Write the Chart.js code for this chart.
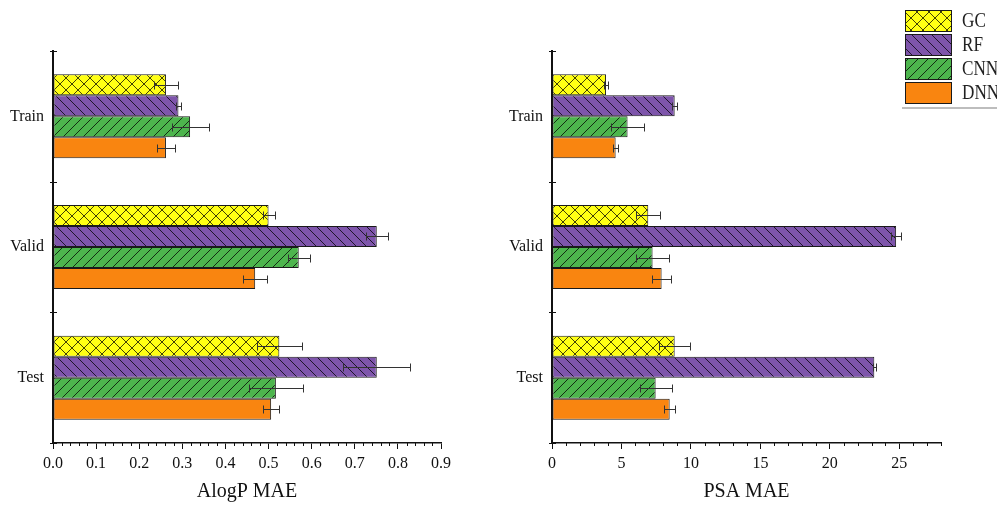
<!DOCTYPE html>
<html>
<head>
<meta charset="utf-8">
<script src="https://cdn.jsdelivr.net/npm/chart.js@4.4.0/dist/chart.umd.min.js"></script>
<style>
  html, body { margin: 0; padding: 0; background: #fff; }
  #wrap { position: relative; width: 997px; height: 505px; overflow: hidden; background: #fff; }
  #c1 { position: absolute; left: 0; top: 0; }
  #c2 { position: absolute; left: 497px; top: 0; }
</style>
</head>
<body>
<div id="wrap">
  <canvas id="c1" width="497" height="505"></canvas>
  <canvas id="c2" width="500" height="505"></canvas>
</div>
<script>
// Data splits and models
const splits = ['Train', 'Valid', 'Test'];
const models = ['GC', 'RF', 'CNN', 'DNN'];

// AlogP mean absolute error per split
const alogpGC  = [0.262, 0.500, 0.525];
const alogpRF  = [0.291, 0.751, 0.751];
const alogpCNN = [0.318, 0.570, 0.517];
const alogpDNN = [0.262, 0.469, 0.506];
// AlogP error bars (±)
const alogpErrGC  = [0.028, 0.014, 0.052];
const alogpErrRF  = [0.005, 0.026, 0.078];
const alogpErrCNN = [0.043, 0.025, 0.062];
const alogpErrDNN = [0.020, 0.028, 0.019];

// PSA mean absolute error per split
const psaGC  = [3.89, 6.93, 8.83];
const psaRF  = [8.83, 24.77, 23.2];
const psaCNN = [5.44, 7.24, 7.46];
const psaDNN = [4.58, 7.89, 8.47];
// PSA error bars (±)
const psaErrGC  = [0.15, 0.85, 1.12];
const psaErrRF  = [0.20, 0.38, 0.12];
const psaErrCNN = [1.17, 1.17, 1.15];
const psaErrDNN = [0.17, 0.70, 0.38];

// Axis tick settings
const alogpTicks = { max: 0.9, step: 0.1, minor: 0.02 };
const psaTicks   = { max: 28,  step: 5,   minor: 1 };

const SERIF = '"Liberation Serif", "Times New Roman", serif';
const INK = '#111';

// Hatched fills
function makePattern(kind, color) {
  const s = kind === 'cross' ? 12 : 10;
  const c = document.createElement('canvas');
  c.width = s; c.height = s;
  const g = c.getContext('2d');
  g.fillStyle = color;
  g.fillRect(0, 0, s, s);
  if (kind === 'plain') return g.createPattern(c, 'repeat');
  g.strokeStyle = 'rgba(0,0,0,0.75)';
  g.lineWidth = 1;
  const fwd = () => { // "/"
    g.beginPath();
    g.moveTo(-1, s + 1); g.lineTo(s + 1, -1);
    g.moveTo(-1, 1); g.lineTo(1, -1);
    g.moveTo(s - 1, s + 1); g.lineTo(s + 1, s - 1);
    g.stroke();
  };
  const back = () => { // "\"
    g.beginPath();
    g.moveTo(-1, -1); g.lineTo(s + 1, s + 1);
    g.moveTo(s - 1, -1); g.lineTo(s + 1, 1);
    g.moveTo(-1, s - 1); g.lineTo(1, s + 1);
    g.stroke();
  };
  if (kind === 'fwd') fwd();
  if (kind === 'back') back();
  if (kind === 'cross') { fwd(); back(); }
  return g.createPattern(c, 'repeat');
}

const fills = [
  makePattern('cross', '#ffff14'),
  makePattern('back', '#7e55ab'),
  makePattern('fwd', '#4db54d'),
  makePattern('plain', '#f98510')
];

function buildDatasets(values, errors) {
  return models.map((m, i) => ({
    label: m,
    data: values[i],
    errors: errors[i],
    backgroundColor: fills[i],
    borderColor: '#1a1a1a',
    borderWidth: 1,
    borderSkipped: false
  }));
}

// Error bars, minor ticks and category boundary ticks
const decorations = {
  id: 'decorations',
  afterDatasetsDraw(chart) {
    const ctx = chart.ctx;
    const xs = chart.scales.x;
    ctx.save();
    ctx.strokeStyle = '#333';
    ctx.lineWidth = 1;
    chart.data.datasets.forEach((ds, di) => {
      const meta = chart.getDatasetMeta(di);
      meta.data.forEach((bar, j) => {
        const v = ds.data[j], e = ds.errors[j];
        const x1 = Math.round(xs.getPixelForValue(v - e)) + 0.5;
        const x2 = Math.round(xs.getPixelForValue(v + e)) + 0.5;
        const y = Math.round(bar.y) + 0.5;
        ctx.beginPath();
        ctx.moveTo(x1, y); ctx.lineTo(x2, y);
        ctx.moveTo(x1, y - 4); ctx.lineTo(x1, y + 4);
        ctx.moveTo(x2, y - 4); ctx.lineTo(x2, y + 4);
        ctx.stroke();
      });
    });
    ctx.restore();
  },
  afterDraw(chart, args, opts) {
    const ctx = chart.ctx;
    const xs = chart.scales.x, ys = chart.scales.y;
    ctx.save();
    ctx.strokeStyle = INK;
    ctx.lineWidth = 1;
    // minor ticks along the value axis
    const n = Math.round(opts.max / opts.minor);
    const per = Math.round(opts.step / opts.minor);
    ctx.beginPath();
    for (let k = 0; k <= n; k++) {
      if (k % per === 0) continue;
      const x = Math.round(xs.getPixelForValue(k * opts.minor)) + 0.5;
      ctx.moveTo(x, xs.top); ctx.lineTo(x, xs.top + 3);
    }
    ctx.stroke();
    // short ticks across the category axis at group boundaries
    const ax = ys.right;
    ctx.beginPath();
    for (let i = 0; i <= splits.length; i++) {
      const y = Math.round(ys.getPixelForValue(i - 0.5)) + 0.5;
      ctx.moveTo(ax - 3, y); ctx.lineTo(ax + 4, y);
    }
    ctx.stroke();
    ctx.restore();
  }
};

// Legend box in the top-right corner
const legendBox = {
  id: 'legendBox',
  afterDraw(chart) {
    const ctx = chart.ctx;
    const x0 = 408, w = 46, h = 21;
    const rows = [10, 34, 58, 82];
    ctx.save();
    models.forEach((m, i) => {
      ctx.fillStyle = fills[i];
      ctx.fillRect(x0, rows[i], w, h);
      ctx.strokeStyle = '#1a1a1a';
      ctx.lineWidth = 1;
      ctx.strokeRect(x0 + 0.5, rows[i] + 0.5, w, h);
      ctx.save();
      ctx.translate(465, rows[i] + h / 2 + 1);
      ctx.scale(0.78, 1);
      ctx.fillStyle = '#222';
      ctx.font = '22px ' + SERIF;
      ctx.textBaseline = 'middle';
      ctx.textAlign = 'left';
      ctx.fillText(m, 0, 0);
      ctx.restore();
    });
    ctx.strokeStyle = '#bdbdbd';
    ctx.lineWidth = 2;
    ctx.beginPath();
    ctx.moveTo(x0 - 3, 108); ctx.lineTo(500, 108);
    ctx.stroke();
    ctx.restore();
  }
};

function makeChart(canvasId, values, errors, tickCfg, title, yWidth, padRight, fmt, extraPlugins) {
  return new Chart(document.getElementById(canvasId), {
    type: 'bar',
    data: { labels: splits, datasets: buildDatasets(values, errors) },
    options: {
      indexAxis: 'y',
      responsive: false,
      animation: false,
      devicePixelRatio: 1,
      layout: { padding: { top: 51, right: padRight, left: 0, bottom: 0 } },
      datasets: { bar: { categoryPercentage: 0.643, barPercentage: 1 } },
      plugins: {
        legend: { display: false },
        tooltip: { enabled: false },
        decorations: tickCfg
      },
      scales: {
        x: {
          type: 'linear',
          min: 0,
          max: tickCfg.max,
          afterFit(s) { s.height = 62; },
          ticks: {
            stepSize: tickCfg.step,
            includeBounds: false,
            autoSkip: false,
            maxRotation: 0,
            color: INK,
            padding: 5,
            font: { family: SERIF, size: 16 },
            callback: fmt
          },
          grid: { drawOnChartArea: false, tickLength: 6, tickColor: INK, color: INK },
          border: { display: true, color: INK, width: 1.5 },
          title: {
            display: true,
            text: title,
            color: INK,
            font: { family: SERIF, size: 20 },
            padding: { top: 0, bottom: 1 }
          }
        },
        y: {
          type: 'category',
          afterFit(s) { s.width = yWidth; },
          ticks: { color: INK, padding: 9, font: { family: SERIF, size: 16 } },
          grid: { drawOnChartArea: false, drawTicks: false },
          border: { display: true, color: INK, width: 2 }
        }
      }
    },
    plugins: [decorations].concat(extraPlugins)
  });
}

makeChart('c1',
  [alogpGC, alogpRF, alogpCNN, alogpDNN],
  [alogpErrGC, alogpErrRF, alogpErrCNN, alogpErrDNN],
  alogpTicks, 'AlogP MAE', 53, 56,
  v => Number(v).toFixed(1), []);

makeChart('c2',
  [psaGC, psaRF, psaCNN, psaDNN],
  [psaErrGC, psaErrRF, psaErrCNN, psaErrDNN],
  psaTicks, 'PSA MAE', 55, 56,
  v => String(Math.round(v)), [legendBox]);
</script>
</body>
</html>
